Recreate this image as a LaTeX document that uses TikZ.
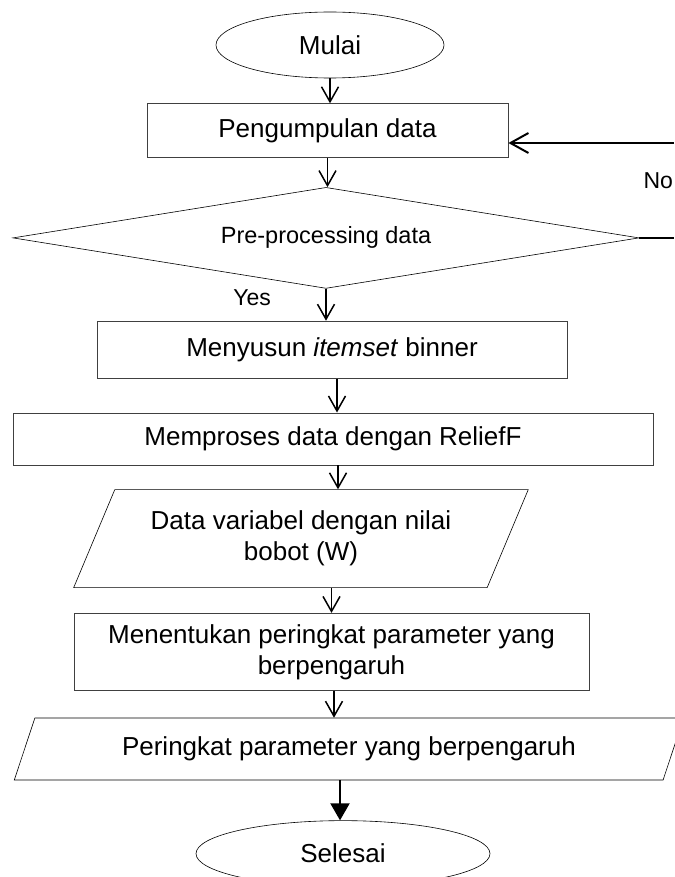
\documentclass[tikz,border=0pt]{standalone}
\usepackage{fontspec}
\setmainfont{Liberation Sans}
\usetikzlibrary{shapes.geometric, arrows.meta, positioning}

\begin{document}
\begin{tikzpicture}[
      node distance   = 25pt,
      base/.style     = {inner sep=0pt, align=center, font=\fontsize{26}{31}\selectfont},
      terminal/.style = {base, ellipse, draw, line width=0.6pt, minimum width=228pt, minimum height=66pt},
      box/.style      = {base, rectangle, draw=black!75, line width=0.8pt, minimum height=54pt},
      decision/.style = {base, diamond, draw, line width=0.6pt, aspect=6.2, minimum width=626pt,
                         minimum height=101pt, font=\fontsize{23.5}{28}\selectfont},
      io/.style       = {base, trapezium, draw, line width=0.6pt, trapezium stretches=true,
                         trapezium left angle=59, trapezium right angle=121},
      lbl/.style      = {inner sep=0pt, font=\fontsize{23}{27}\selectfont},
      flow/.style     = {-{Straight Barb[length=15pt,width=17pt]}, line width=1.5pt},
      flowfill/.style = {-{Triangle[length=17pt,width=19pt]}, line width=2pt}
    ]
    \useasboundingbox (0,0) rectangle (674pt,-877pt);

    % Nodes
    \node[terminal] (mulai) at (330pt,-45pt) {Mulai};
    \node[box, minimum width=361pt, below=25pt of mulai, xshift=-2.5pt] (collect) {Pengumpulan data};
    \node[decision, below=29pt of collect, xshift=-1.5pt] (prep) {Pre-processing data};
    \node[box, minimum width=470pt, minimum height=57pt, below=32pt of prep, xshift=6pt] (itemset) {Menyusun \textit{itemset} binner};
    \node[box, minimum width=640pt, minimum height=52pt, below=34pt of itemset, xshift=1pt] (relief) {Memproses data dengan ReliefF};
    \node[io, minimum width=456pt, minimum height=98pt, below=24pt of relief, xshift=-32pt] (weight) {Data variabel dengan nilai\\bobot (W)};
    \node[box, minimum width=515pt, minimum height=77pt, below=25pt of weight, xshift=30.5pt] (rank) {Menentukan peringkat parameter yang\\berpengaruh};
    \node[io, trapezium left angle=58.5, trapezium right angle=121.5, minimum width=672pt,
          minimum height=62pt, below=27pt of rank, xshift=17.5pt] (result) {Peringkat parameter yang berpengaruh};
    \node[terminal, minimum width=294pt, below=40pt of result, xshift=-6pt] (selesai) {Selesai};

    % Labels
    \node[lbl, anchor=north east] (yes) at ([xshift=-55pt,yshift=-1pt]prep.south) {Yes};
    \node[lbl, anchor=west] (no) at ([xshift=4pt,yshift=57pt]prep.east) {No};
    \coordinate (loopin) at (674pt,-143pt);
    \coordinate (loopout) at (prep.east -| loopin);

    % Relationships
    \draw[flow] (mulai.south) -- (mulai.south |- collect.north);
    \draw[flow] (collect.south) -- (collect.south |- prep.north);
    \draw[flow] (prep.south) -- (prep.south |- itemset.north);
    \draw[flow] ([xshift=5pt]itemset.south) -- ([xshift=5pt]itemset.south |- relief.north);
    \draw[flow] ([xshift=5pt]relief.south) -- ([xshift=5pt]relief.south |- weight.north);
    \draw[flow] (rank.north |- weight.south) -- (rank.north);
    \draw[flow] ([xshift=2.5pt]rank.south) -- ([xshift=2.5pt]rank.south |- result.north);
    \draw[flowfill] ([xshift=-3pt]selesai.north |- result.south) -- ([xshift=-3pt]selesai.north);
    \draw[line width=2pt] (prep.east) -- (loopout);
    \draw[flow, -{Straight Barb[length=18pt,width=20pt]}, line width=2pt] (loopin) -- (loopin -| collect.east);

  \end{tikzpicture}
\end{document}
